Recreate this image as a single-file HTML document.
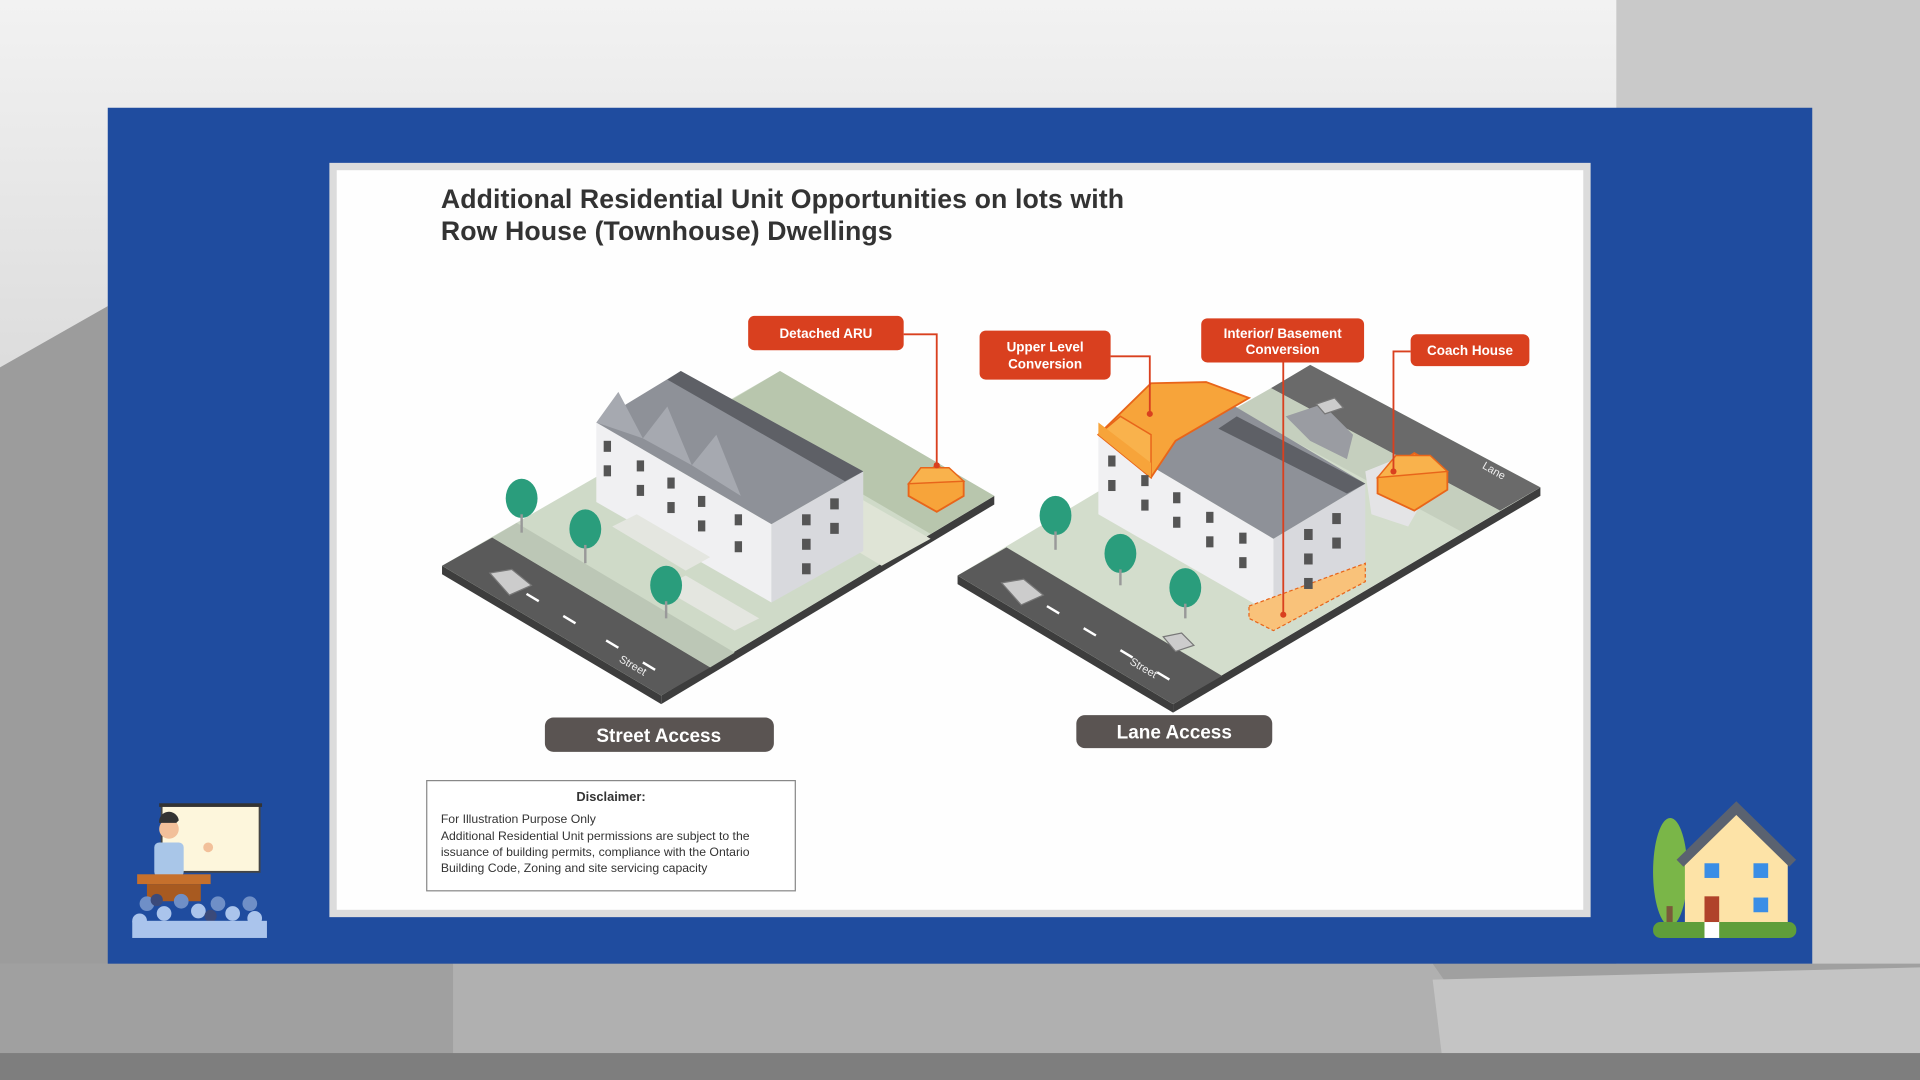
<!DOCTYPE html>
<html><head><meta charset="utf-8"><style>
html,body{margin:0;padding:0;width:1920px;height:1080px;overflow:hidden;background:#ccc}
svg{display:block}
text{font-family:"Liberation Sans",Arial,sans-serif}
</style></head><body>
<svg width="1920" height="1080" viewBox="0 0 1568 882" xmlns="http://www.w3.org/2000/svg">
<defs>
<linearGradient id="bg" x1="0" y1="0" x2="0" y2="1">
<stop offset="0" stop-color="#f2f2f2"/><stop offset="0.35" stop-color="#dcdcdc"/><stop offset="1" stop-color="#8e8e8e"/>
</linearGradient>
</defs>
<rect width="1568" height="882" fill="url(#bg)"/>
<rect x="1320" y="0" width="248" height="882" fill="#c9c9c9"/>
<polygon points="0,300 88,250 88,882 0,882" fill="#9c9c9c"/>
<polygon points="0,787 1568,787 1568,882 0,882" fill="#a0a0a0"/>
<polygon points="370,787 1170,787 1200,830 1568,830 1568,882 370,882" fill="#b0b0b0"/>
<polygon points="1170,800 1568,790 1568,882 1180,882" fill="#c4c4c4"/>
<rect x="0" y="860" width="1568" height="22" fill="#7e7e7e"/>
<!-- blue panel -->
<rect x="88" y="88" width="1392" height="699" fill="#1f4c9f"/>
<!-- card -->
<rect x="269" y="133" width="1030" height="616" fill="#dcdcdc"/>
<rect x="275" y="139" width="1018" height="604" fill="#fefefe"/>
<text x="360" y="170" font-size="21.8" font-weight="bold" fill="#333" textLength="558">Additional Residential Unit Opportunities on lots with</text>
<text x="360" y="196" font-size="21.8" font-weight="bold" fill="#333" textLength="369">Row House (Townhouse) Dwellings</text>

<!-- LEFT LOT -->
<polygon points="361,462 540,568 540,575 361,469" fill="#3d3d3d"/>
<polygon points="540,568 812,405 812,412 540,575" fill="#3d3d3d"/>
<polygon points="637,303 812,405 540,568 361,462" fill="#cfdac8"/>
<polygon points="361,462 540,568 580,545 402,439" fill="#5a5a5a"/>
<polygon points="402,439 580,545 600,533 422,427" fill="#bcc7b6"/>
<polygon points="637,303 812,405 760,436 585,334" fill="#b8c6ad"/>
<polygon points="690,400 760,440 720,462 650,420" fill="#dfe4d6"/>
<g stroke="#fff" stroke-width="2">
<line x1="430" y1="485" x2="440" y2="491"/><line x1="460" y1="503" x2="470" y2="509"/><line x1="495" y1="523" x2="505" y2="529"/><line x1="525" y1="541" x2="535" y2="547"/></g>
<text x="505" y="540" font-size="9" fill="#eee" transform="rotate(30 505 540)">Street</text>
<!-- building -->
<polygon points="487,345 630,428 630,492 487,410" fill="#f0f0f2"/>
<polygon points="630,428 705,385 705,450 630,492" fill="#d8d9dd"/>
<polygon points="487,345 556,303 705,385 630,428" fill="#8e9198"/>
<polygon points="556,303 705,385 690,393 545,310" fill="#5e6066"/>
<polygon points="487,345 505,320 525,358" fill="#a6a9b0"/>
<polygon points="525,358 545,332 565,380" fill="#a6a9b0"/>
<polygon points="565,380 585,355 605,405" fill="#a6a9b0"/>
<g fill="#555">
<rect x="493" y="360" width="6" height="9"/><rect x="493" y="380" width="6" height="9"/><rect x="520" y="376" width="6" height="9"/><rect x="520" y="396" width="6" height="9"/><rect x="545" y="390" width="6" height="9"/><rect x="545" y="410" width="6" height="9"/><rect x="570" y="405" width="6" height="9"/><rect x="570" y="425" width="6" height="9"/><rect x="600" y="420" width="6" height="9"/><rect x="600" y="442" width="6" height="9"/>
<rect x="655" y="420" width="7" height="9"/><rect x="678" y="407" width="7" height="9"/><rect x="655" y="440" width="7" height="9"/><rect x="678" y="427" width="7" height="9"/><rect x="655" y="460" width="7" height="9"/></g>
<polygon points="500,430 560,466 580,455 520,420" fill="#e4e6e0"/>
<polygon points="560,470 620,505 600,515 540,480" fill="#e4e6e0"/>
<!-- ARU -->
<polygon points="742,395 765,380 787,393 787,405 765,418 742,405" fill="#f7a43a" stroke="#e8651a" stroke-width="1.5"/>
<polygon points="742,395 752,382 775,382 787,393" fill="#f9b24c" stroke="#e8651a" stroke-width="1.2"/>
<!-- trees -->
<g fill="#2a9d7c"><ellipse cx="426" cy="407" rx="13" ry="16"/><ellipse cx="478" cy="432" rx="13" ry="16"/><ellipse cx="544" cy="478" rx="13" ry="16"/></g>
<g stroke="#999" stroke-width="2"><line x1="426" y1="420" x2="426" y2="435"/><line x1="478" y1="445" x2="478" y2="460"/><line x1="544" y1="491" x2="544" y2="505"/></g>
<polygon points="400,468 418,465 434,478 416,486" fill="#ccc" stroke="#777"/>
<!-- callout -->
<polyline points="738,273 765,273 765,380" fill="none" stroke="#d9401f" stroke-width="1.5"/>
<circle cx="765" cy="380" r="2.5" fill="#d9401f"/>
<rect x="611" y="258" width="127" height="28" rx="5" fill="#d9401f"/>
<text x="674.5" y="276" font-size="11" font-weight="bold" fill="#fff" text-anchor="middle">Detached ARU</text>

<!-- RIGHT LOT -->
<polygon points="782,470 958,575 958,582 782,477" fill="#3d3d3d"/>
<polygon points="958,575 1258,398 1258,405 958,582" fill="#3d3d3d"/>
<polygon points="1070,298 1258,398 958,575 782,470" fill="#d3ddcc"/>
<polygon points="782,470 958,575 998,552 822,447" fill="#5a5a5a"/>
<polygon points="1070,298 1258,398 1225,417 1038,317" fill="#6a6a6a"/>
<polygon points="1225,417 1195,435 1008,334 1038,317" fill="#c5cfbe"/>
<g stroke="#fff" stroke-width="2">
<line x1="855" y1="495" x2="865" y2="501"/><line x1="885" y1="513" x2="895" y2="519"/><line x1="915" y1="531" x2="925" y2="537"/><line x1="945" y1="549" x2="955" y2="555"/></g>
<text x="922" y="542" font-size="9" fill="#eee" transform="rotate(30 922 542)">Street</text>
<text x="1210" y="382" font-size="9" fill="#eee" transform="rotate(30 1210 382)">Lane</text>
<!-- building -->
<polygon points="897,355 1040,440 1040,502 897,420" fill="#f0f0f2"/>
<polygon points="1040,440 1115,395 1115,460 1040,502" fill="#d8d9dd"/>
<polygon points="897,355 975,312 1115,395 1040,440" fill="#8e9198"/>
<polygon points="1010,340 1115,395 1100,403 995,350" fill="#5e6066"/>
<polygon points="897,355 940,313 985,312 1020,325 960,360 940,390" fill="#f7a43a" stroke="#e8651a" stroke-width="1.5"/>
<polygon points="897,355 940,390 940,355 915,340" fill="#f9b24c" stroke="#e8651a" stroke-width="1.2"/>
<polygon points="897,355 940,390 940,378 897,345" fill="#f7a43a"/>
<polygon points="1020,495 1115,460 1115,475 1040,515 1020,505" fill="#f9c27a" stroke="#e8651a" stroke-dasharray="3 2"/>
<g fill="#555">
<rect x="905" y="372" width="6" height="9"/><rect x="905" y="392" width="6" height="9"/><rect x="932" y="388" width="6" height="9"/><rect x="932" y="408" width="6" height="9"/><rect x="958" y="402" width="6" height="9"/><rect x="958" y="422" width="6" height="9"/><rect x="985" y="418" width="6" height="9"/><rect x="985" y="438" width="6" height="9"/><rect x="1012" y="435" width="6" height="9"/><rect x="1012" y="455" width="6" height="9"/>
<rect x="1065" y="432" width="7" height="9"/><rect x="1088" y="419" width="7" height="9"/><rect x="1065" y="452" width="7" height="9"/><rect x="1088" y="439" width="7" height="9"/><rect x="1065" y="472" width="7" height="9"/></g>
<polygon points="1050,340 1080,330 1105,355 1100,375 1070,360" fill="#9a9ca2"/>
<polygon points="1115,385 1140,375 1170,395 1150,430 1120,420" fill="#e4e4e6"/>
<polygon points="1125,390 1155,370 1182,385 1182,400 1155,417 1125,403" fill="#f7a43a" stroke="#e8651a" stroke-width="1.5"/>
<polygon points="1125,390 1140,372 1168,372 1182,385" fill="#f9b24c" stroke="#e8651a" stroke-width="1.2"/>
<g fill="#2a9d7c"><ellipse cx="862" cy="421" rx="13" ry="16"/><ellipse cx="915" cy="452" rx="13" ry="16"/><ellipse cx="968" cy="480" rx="13" ry="16"/></g>
<g stroke="#999" stroke-width="2"><line x1="862" y1="434" x2="862" y2="449"/><line x1="915" y1="465" x2="915" y2="478"/><line x1="968" y1="493" x2="968" y2="505"/></g>
<polygon points="818,476 836,473 852,486 834,494" fill="#ccc" stroke="#777"/>
<polygon points="950,520 965,517 975,527 960,532" fill="#ccc" stroke="#777"/>
<polygon points="1075,330 1090,325 1097,333 1082,338" fill="#ccc" stroke="#777"/>
<!-- callouts -->
<g fill="none" stroke="#d9401f" stroke-width="1.5">
<polyline points="907,291 939,291 939,338"/>
<polyline points="1048,296 1048,502"/>
<polyline points="1152,287 1138,287 1138,385"/></g>
<g fill="#d9401f"><circle cx="939" cy="338" r="2.5"/><circle cx="1048" cy="502" r="2.5"/><circle cx="1138" cy="385" r="2.5"/></g>
<rect x="800" y="270" width="107" height="40" rx="5" fill="#d9401f"/>
<text x="853.5" y="287" font-size="11" font-weight="bold" fill="#fff" text-anchor="middle">Upper Level</text>
<text x="853.5" y="301" font-size="11" font-weight="bold" fill="#fff" text-anchor="middle">Conversion</text>
<rect x="981" y="260" width="133" height="36" rx="5" fill="#d9401f"/>
<text x="1047.5" y="276" font-size="11" font-weight="bold" fill="#fff" text-anchor="middle">Interior/ Basement</text>
<text x="1047.5" y="289" font-size="11" font-weight="bold" fill="#fff" text-anchor="middle">Conversion</text>
<rect x="1152" y="273" width="97" height="26" rx="5" fill="#d9401f"/>
<text x="1200.5" y="290" font-size="11" font-weight="bold" fill="#fff" text-anchor="middle">Coach House</text>

<!-- pills -->
<rect x="445" y="586" width="187" height="28" rx="7" fill="#5a5452"/>
<text x="538" y="606" font-size="15.5" font-weight="bold" fill="#fff" text-anchor="middle">Street Access</text>
<rect x="879" y="584" width="160" height="27" rx="7" fill="#5a5452"/>
<text x="959" y="603" font-size="15.5" font-weight="bold" fill="#fff" text-anchor="middle">Lane Access</text>

<!-- disclaimer -->
<rect x="348.5" y="637.5" width="301" height="90" fill="#fff" stroke="#888"/>
<text x="499" y="654" font-size="10.5" font-weight="bold" fill="#333" text-anchor="middle">Disclaimer:</text>
<g font-size="10" fill="#333">
<text x="360" y="672">For Illustration Purpose Only</text>
<text x="360" y="686">Additional Residential Unit permissions are subject to the</text>
<text x="360" y="699">issuance of building permits, compliance with the Ontario</text>
<text x="360" y="712">Building Code, Zoning and site servicing capacity</text></g>

<!-- presenter icon -->
<rect x="132" y="657" width="80" height="55" fill="#fdf6dc" stroke="#444" stroke-width="1.5"/>
<rect x="130" y="656" width="84" height="3" fill="#333"/>
<circle cx="138" cy="677" r="8" fill="#f2c09a"/><path d="M130,672 a8,8 0 0 1 16,-2 l-2,2z" fill="#333"/>
<rect x="126" y="688" width="24" height="28" rx="4" fill="#a9c6e8"/>
<circle cx="170" cy="692" r="4" fill="#f2c09a"/>
<rect x="112" y="714" width="60" height="8" fill="#c6702c"/>
<rect x="120" y="722" width="44" height="14" fill="#a85a20"/>
<g fill="#6f8fc7"><circle cx="120" cy="738" r="6"/><circle cx="148" cy="736" r="6"/><circle cx="178" cy="738" r="6"/><circle cx="204" cy="738" r="6"/></g>
<g fill="#aac4ec"><circle cx="134" cy="746" r="6"/><circle cx="162" cy="744" r="6"/><circle cx="190" cy="746" r="6"/><circle cx="114" cy="752" r="6"/><circle cx="208" cy="750" r="6"/></g>
<g fill="#3b4a7a"><circle cx="128" cy="735" r="5"/><circle cx="172" cy="748" r="5"/></g>
<rect x="108" y="752" width="110" height="14" fill="#aac4ec"/>
<!-- house icon -->
<ellipse cx="1364" cy="712" rx="14" ry="44" fill="#7ab648"/>
<rect x="1361" y="740" width="5" height="16" fill="#7a5a3a"/>
<polygon points="1376,700 1418,660 1460,700 1460,755 1376,755" fill="#fde3a7"/>
<polyline points="1372,705 1418,660 1464,705" fill="none" stroke="#5a6270" stroke-width="8"/>
<rect x="1392" y="705" width="12" height="12" fill="#3a8ee6"/><rect x="1432" y="705" width="12" height="12" fill="#3a8ee6"/>
<rect x="1432" y="733" width="12" height="12" fill="#3a8ee6"/><rect x="1392" y="732" width="12" height="23" fill="#b0432a"/>
<rect x="1350" y="753" width="117" height="13" rx="6" fill="#5f9e3a"/>
<rect x="1392" y="753" width="12" height="13" fill="#fff"/>
</svg>
</body></html>
